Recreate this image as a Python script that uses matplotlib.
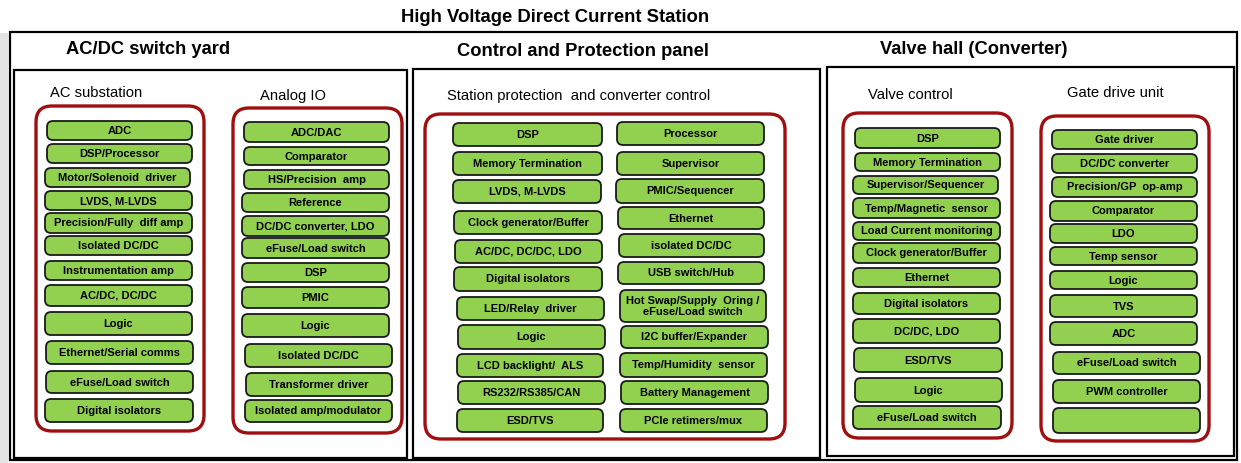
import matplotlib
matplotlib.use("Agg")
import matplotlib.pyplot as plt
from matplotlib.patches import FancyBboxPatch, Rectangle

# ---------------- content ----------------
TITLE = "High Voltage Direct Current Station"
SECTIONS = ["AC/DC switch yard", "Control and Protection panel", "Valve hall (Converter)"]
GROUP_TITLES = ["AC substation", "Analog IO", "Station protection  and converter control",
                "Valve control", "Gate drive unit"]

ac_substation = ["ADC", "DSP/Processor", "Motor/Solenoid  driver", "LVDS, M-LVDS",
                 "Precision/Fully  diff amp", "Isolated DC/DC", "Instrumentation amp",
                 "AC/DC, DC/DC", "Logic", "Ethernet/Serial comms", "eFuse/Load switch",
                 "Digital isolators"]
analog_io = ["ADC/DAC", "Comparator", "HS/Precision  amp", "Reference", "DC/DC converter, LDO",
             "eFuse/Load switch", "DSP", "PMIC", "Logic", "Isolated DC/DC",
             "Transformer driver", "Isolated amp/modulator"]
station_left = ["DSP", "Memory Termination", "LVDS, M-LVDS", "Clock generator/Buffer",
                "AC/DC, DC/DC, LDO", "Digital isolators", "LED/Relay  driver", "Logic",
                "LCD backlight/  ALS", "RS232/RS385/CAN", "ESD/TVS"]
station_right = ["Processor", "Supervisor", "PMIC/Sequencer", "Ethernet", "isolated DC/DC",
                 "USB switch/Hub", "Hot Swap/Supply  Oring /\neFuse/Load switch",
                 "I2C buffer/Expander", "Temp/Humidity  sensor", "Battery Management",
                 "PCIe retimers/mux"]
valve_control = ["DSP", "Memory Termination", "Supervisor/Sequencer", "Temp/Magnetic  sensor",
                 "Load Current monitoring", "Clock generator/Buffer", "Ethernet",
                 "Digital isolators", "DC/DC, LDO", "ESD/TVS", "Logic", "eFuse/Load switch"]
gate_drive = ["Gate driver", "DC/DC converter", "Precision/GP  op-amp", "Comparator", "LDO",
              "Temp sensor", "Logic", "TVS", "ADC", "eFuse/Load switch", "PWM controller", ""]

# ---------------- layout (pixel coordinates) ----------------
ac_layout = [(47, 192, 121, 140), (47, 192, 144, 163), (45, 190, 168, 187), (45, 192, 191, 210),
             (45, 192, 213, 233), (45, 192, 236, 255), (45, 192, 261, 280), (45, 192, 285, 306),
             (45, 192, 312, 335), (46, 193, 341, 364), (46, 193, 371, 393), (45, 193, 399, 422)]
aio_layout = [(244, 389, 122, 142), (244, 389, 147, 165), (244, 389, 170, 189), (242, 389, 193, 212),
              (242, 389, 216, 236), (242, 389, 238, 258), (242, 389, 263, 282), (242, 389, 287, 308),
              (242, 389, 314, 337), (245, 392, 344, 367), (246, 392, 373, 396), (245, 392, 400, 422)]
sl_layout = [(453, 602, 123, 146), (453, 602, 152, 175), (453, 601, 180, 203), (454, 602, 211, 234),
             (455, 602, 240, 263), (454, 602, 267, 291), (457, 604, 297, 320), (458, 605, 325, 349),
             (457, 603, 354, 377), (458, 605, 381, 404), (457, 603, 409, 432)]
sr_layout = [(617, 764, 122, 145), (617, 764, 152, 175), (616, 764, 179, 203), (618, 764, 207, 229),
             (619, 764, 234, 257), (618, 764, 262, 284), (620, 766, 290, 322), (621, 768, 326, 348),
             (620, 767, 353, 377), (621, 768, 381, 404), (620, 767, 409, 432)]
vc_layout = [(855, 1000, 128, 148), (855, 1000, 153, 171), (853, 998, 176, 194), (853, 1000, 198, 218),
             (853, 1000, 222, 240), (853, 1000, 243, 263), (853, 1000, 268, 287), (853, 1000, 293, 314),
             (853, 1000, 319, 343), (854, 1002, 348, 372), (855, 1002, 378, 402), (853, 1001, 406, 429)]
gd_layout = [(1052, 1197, 130, 149), (1052, 1197, 154, 173), (1052, 1197, 177, 197), (1050, 1197, 201, 221),
             (1050, 1197, 224, 243), (1050, 1197, 247, 265), (1050, 1197, 271, 289), (1050, 1197, 295, 317),
             (1050, 1197, 322, 345), (1053, 1200, 352, 374), (1053, 1200, 380, 403), (1053, 1200, 408, 433)]

GREEN = "#92D050"
RED = "#A00F0F"

W, H = 1241, 463
fig = plt.figure(figsize=(W / 100, H / 100), dpi=100)
ax = fig.add_axes([0, 0, 1, 1])
ax.set_xlim(0, W)
ax.set_ylim(H, 0)
ax.axis("off")

FONT = "Liberation Sans"

# left grey shadow
ax.add_patch(Rectangle((0, 33), 8, H - 33, facecolor="#E4E4E4", edgecolor="none"))

# outer frame
ax.add_patch(Rectangle((10, 32), 1227, 428, facecolor="white", edgecolor="black", lw=1.6))
ax.text(555, 17, TITLE, ha="center", va="center", fontsize=13.3, fontweight="bold", family=FONT)

# section boxes
for (x0, x1, y0, y1) in [(14, 407, 70, 458), (413, 820, 69, 458), (827, 1234, 67, 456)]:
    ax.add_patch(Rectangle((x0, y0), x1 - x0, y1 - y0, facecolor="white", edgecolor="black", lw=1.6))

for txt, x, y in zip(SECTIONS, [148, 583, 974], [50, 52, 49]):
    ax.text(x, y, txt, ha="center", va="center", fontsize=13.2, fontweight="bold", family=FONT)

# group titles
for txt, x, y in zip(GROUP_TITLES, [50, 260, 447, 868, 1067], [93, 96, 96, 95, 93]):
    ax.text(x, y, txt, ha="left", va="center", fontsize=10.6, family=FONT)

# red rounded containers
for (x0, x1, y0, y1) in [(36, 204, 106, 431), (233, 402, 108, 433), (425, 785, 114, 439),
                         (843, 1012, 113, 438), (1041, 1209, 116, 441)]:
    ax.add_patch(FancyBboxPatch((x0, y0), x1 - x0, y1 - y0,
                                boxstyle="round,pad=0,rounding_size=16",
                                facecolor="white", edgecolor=RED, lw=2.4))


def draw_items(labels, layout):
    for lab, (x0, x1, y0, y1) in zip(labels, layout):
        ax.add_patch(FancyBboxPatch((x0, y0), x1 - x0, y1 - y0,
                                    boxstyle="round,pad=0,rounding_size=6",
                                    facecolor=GREEN, edgecolor="#1A1A1A", lw=1.3))
        ax.text((x0 + x1) / 2, (y0 + y1) / 2 + 0.5, lab, ha="center", va="center",
                fontsize=8, fontweight="bold", family=FONT, linespacing=1.15)


draw_items(ac_substation, ac_layout)
draw_items(analog_io, aio_layout)
draw_items(station_left, sl_layout)
draw_items(station_right, sr_layout)
draw_items(valve_control, vc_layout)
draw_items(gate_drive, gd_layout)

fig.savefig("out.png", dpi=100)
